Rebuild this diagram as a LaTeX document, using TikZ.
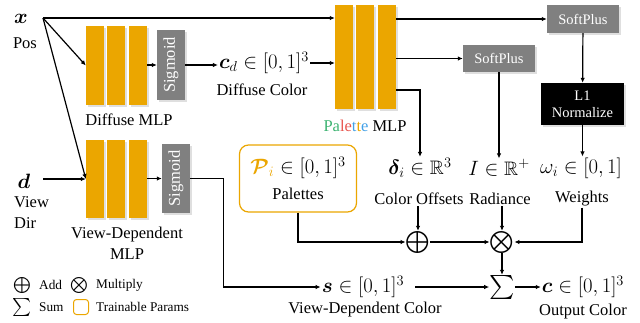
\documentclass[tikz,border=0pt]{standalone}
\usepackage{amsmath}
\usepackage{amssymb}
\usepackage{bm}
\usepackage{fontspec}
\setmainfont{Liberation Serif}
\usepackage{tikz}
\usetikzlibrary{arrows.meta, positioning, shadows, calc}
\definecolor{mlporange}{RGB}{235, 166, 0}
\definecolor{actgray}{RGB}{128, 128, 128}
\definecolor{palgreen}{RGB}{60, 179, 113}
\definecolor{palred}{RGB}{232, 85, 78}
\definecolor{palblue}{RGB}{66, 160, 230}

\begin{document}
\begin{tikzpicture}[
    x=1pt, y=-1pt,
    lbl/.style={font=\fontsize{16.5}{21}\selectfont, inner sep=1pt},
    mathlbl/.style={font=\fontsize{19.5}{21}\selectfont, inner sep=1pt},
    bar/.style={
        rectangle, fill=mlporange, inner sep=0pt, minimum width=18pt,
        drop shadow={opacity=0.25, shadow xshift=1.5pt, shadow yshift=-1.5pt}
    },
    act/.style={
        rectangle, fill=actgray, text=white, inner sep=0pt, font=\fontsize{14.5}{17}\selectfont,
        drop shadow={opacity=0.25, shadow xshift=1.5pt, shadow yshift=-1.5pt}
    },
    sig/.style={act, font=\fontsize{16.5}{17}\selectfont, minimum width=28pt},
    parambox/.style={
        rectangle, draw=mlporange, line width=1.2pt, rounded corners=9pt, fill=white,
        minimum width=117pt, minimum height=67pt, align=center
    },
    arr/.style={
        -{Latex[length=5pt, width=4.5pt]}, line width=1.2pt
    },
    op/.style={inner sep=0pt, font=\fontsize{22}{22}\selectfont},
    legend/.style={font=\fontsize{13.3}{15}\selectfont, inner sep=1pt, anchor=west}
]
\useasboundingbox (0,0) rectangle (640,322);

% Inputs
\node[mathlbl] (x) at (21,19) {$\bm{x}$};
\node[lbl] (pos) at (25,43) {Pos};
\coordinate (xo) at (43,18);
\node[mathlbl] (d) at (24,181) {$\bm{d}$};
\node[lbl, align=left, anchor=north west] (dir) at (13,195) {View\\Dir};
\coordinate (di) at (43,179);

% Diffuse MLP
\node[bar, minimum height=79pt] (dm1) at (95,65.5) {};
\node[bar, minimum height=79pt] (dm2) at (116,65.5) {};
\node[bar, minimum height=79pt] (dm3) at (138,65.5) {};
\node[sig, minimum height=70pt] (ds) at (171,65) {\rotatebox{90}{Sigmoid}};
\node[lbl] (dmlp) at (129,120) {Diffuse MLP};
\node[mathlbl] (cd) at (264,63) {$\bm{c}_d \in [0,1]^3$};
\node[lbl] (cdl) at (262,90) {Diffuse Color};

% View-dependent MLP
\node[bar, minimum height=78pt] (vm1) at (95,179) {};
\node[bar, minimum height=78pt] (vm2) at (116,179) {};
\node[bar, minimum height=78pt] (vm3) at (138,179) {};
\node[sig, minimum height=69pt] (vs) at (176,178.5) {\rotatebox{90}{Sigmoid}};
\node[lbl, align=center] (vmlp) at (127,243) {View-Dependent\\MLP};

% Palette MLP
\node[bar, minimum height=104pt] (pm1) at (344,57) {};
\node[bar, minimum height=104pt] (pm2) at (365,57) {};
\node[bar, minimum height=104pt] (pm3) at (387,57) {};
\node[lbl] (pmlp) at (365,126) {{\color{palgreen}Pa}{\color{palred}le}{\color{palblue}t}{\color{mlporange}t}{\color{palblue}e} MLP};

% Heads
\node[act, minimum width=72pt, minimum height=28pt] (sp1) at (583,19) {SoftPlus};
\node[act, minimum width=72pt, minimum height=27pt] (sp2) at (499,58.5) {SoftPlus};
\node[act, fill=black, align=center, minimum width=83pt, minimum height=42pt] (l1) at (582.5,104) {L1\\Normalize};

% Outputs
\node[mathlbl] (delta) at (420,168) {$\bm{\delta}_i \in \mathbb{R}^3$};
\node[lbl] (deltal) at (419,199) {Color Offsets};
\node[mathlbl] (rad) at (499,168) {$I \in \mathbb{R}^{+}$};
\node[lbl] (radl) at (500,199) {Radiance};
\node[mathlbl] (w) at (581,168) {$\omega_i \in [0,1]$};
\node[lbl] (wl) at (582,199) {Weights};
\node[parambox, font=\fontsize{16.5}{26}\selectfont] (pal) at (298,178.5) {{\fontsize{19.5}{21}\selectfont$\textcolor{mlporange}{\bm{\mathcal{P}}_i} \in [0,1]^3$}\\Palettes};

% Combination
\node[op] (plus) at (418,242) {$\bigoplus$};
\node[op] (times) at (502,242) {$\bigotimes$};
\node[op, font=\fontsize{24}{24}\selectfont] (sum) at (502,287) {$\sum$};
\node[mathlbl] (s) at (363,287) {$\bm{s} \in [0,1]^3$};
\node[lbl] (sl) at (365,310) {View-Dependent Color};
\node[mathlbl] (c) at (583,287) {$\bm{c} \in [0,1]^3$};
\node[lbl] (cl) at (583,312) {Output Color};

% Legend
\node[op, font=\fontsize{16}{16}\selectfont] (ladd) at (22,285) {$\bigoplus$};
\node[legend] (laddt) at (38,285) {Add};
\node[op, font=\fontsize{16}{16}\selectfont] (lmul) at (79,285) {$\bigotimes$};
\node[legend] (lmult) at (95,285) {Multiply};
\node[op, font=\fontsize{18}{18}\selectfont] (lsum) at (22,307) {$\sum$};
\node[legend] (lsumt) at (38,307) {Sum};
\node[rectangle, draw=mlporange, line width=1pt, rounded corners=3pt, minimum size=15pt, inner sep=0pt] (lpar) at (81,307) {};
\node[legend] (lpart) at (95,307) {Trainable Params};

% Connectors
\draw[arr] (xo) -- (xo -| pm1.west);
\draw[arr] (xo) -- (dm1.west);
\draw[arr] (xo) -- (vm1.west);
\draw[arr] (di) -- (vm1.west);
\draw[arr] (dm3.east |- ds.west) -- (ds.west);
\draw[arr] (ds.east) -- (ds.east -| cd.west);
\draw[arr] (cd.east) -- (cd.east -| pm1.west);
\draw[arr] (vm3.east |- vs.west) -- (vs.west);
\draw[arr] (vs.east) -- ++(33,0) |- (s.west);
\draw[arr] (pm3.east |- sp1.west) -- (sp1.west);
\draw[arr] (pm3.east |- sp2.west) -- (sp2.west);
\draw[arr] ([yshift=-33pt]pm3.east) -| (delta.north);
\draw[arr] (sp1) -- (l1);
\draw[arr] (l1.south) -- (l1.south |- w.north);
\draw[arr] (sp2.south) -- (sp2.south |- rad.north);
\draw[arr] (deltal.south -| plus.north) -- (plus.north);
\draw[arr] (pal.south) |- (plus.west);
\draw[arr] (plus) -- (times);
\draw[arr] (radl.south -| times.north) -- (times.north);
\draw[arr] (wl.south) |- (times.east);
\draw[arr] (times) -- (sum);
\draw[arr, shorten <=10pt] (s) -- (sum);
\draw[arr] (sum) -- (c);

\end{tikzpicture}
\end{document}
